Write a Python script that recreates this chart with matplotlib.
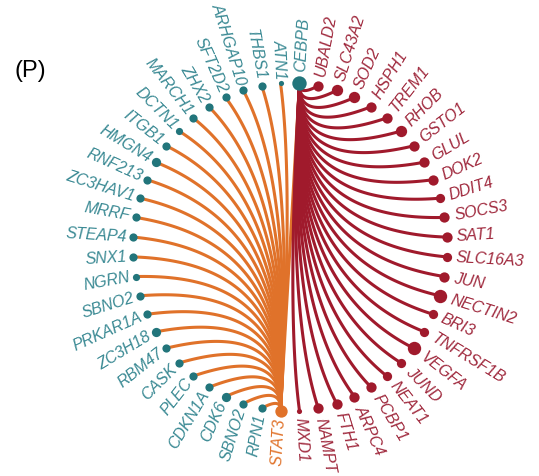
import matplotlib.pyplot as plt
import numpy as np

# hubs
hub_a = "CEBPB"
hub_b = "STAT3"

# STAT3 targets, listed top to bottom on the left half
left_genes = ["ATN1", "THBS1", "ARHGAP10", "SFT2D2", "ZHX2", "MARCH1", "DCTN1",
              "ITGB1", "HMGN4", "RNF213", "ZC3HAV1", "MRRF", "STEAP4", "SNX1",
              "NGRN", "SBNO2", "PRKAR1A", "ZC3H18", "RBM47", "CASK", "PLEC",
              "CDKN1A", "CDK6", "SBNO2", "RPN1"]
left_size = [5, 8, 8, 8, 8, 8, 7, 8, 9, 8, 8, 8, 8, 8, 7, 8, 8, 9, 8, 8, 8, 8, 9, 8, 8]

# CEBPB targets, listed top to bottom on the right half
right_genes = ["UBALD2", "SLC43A2", "SOD2", "HSPH1", "TREM1", "RHOB", "GSTO1",
               "GLUL", "DOK2", "DDIT4", "SOCS3", "SAT1", "SLC16A3", "JUN",
               "NECTIN2", "BRI3", "TNFRSF1B", "VEGFA", "JUND", "NEAT1", "PCBP1",
               "ARPC4", "FTH1", "NAMPT", "MXD1"]
right_size = [10, 11, 11, 10, 10, 11, 10, 10, 10, 9, 10, 10, 9, 10, 13, 9, 9, 13,
              9, 9, 10, 10, 10, 10, 5]

hub_size = {hub_a: 14, hub_b: 12}

teal_node = "#22757b"
teal_text = "#3b8a94"
orange = "#e0722a"
red = "#a01a2c"
red_text = "#a02a3e"

# circle order: CEBPB, right side downwards, STAT3, left side upwards
order = [hub_a] + right_genes + [hub_b] + left_genes[::-1]
sizes = [hub_size[hub_a]] + right_size + [hub_size[hub_b]] + left_size[::-1]
n = len(order)
step = 360 / n
ang = np.deg2rad((12.5 - np.arange(n)) * step)

cx, cy, rx, ry = 290, 247, 157, 164
px = cx + rx * np.cos(ang)
py = cy - ry * np.sin(ang)

fig = plt.figure(figsize=(5.39, 4.76), dpi=100)
ax = fig.add_axes([0, 0, 1, 1])
ax.set_xlim(0, 539)
ax.set_ylim(476, 0)
ax.axis("off")

ia, ib = 0, len(right_genes) + 1
pa = np.array([px[ia], py[ia]])
pb = np.array([px[ib], py[ib]])


def edge(h, t, color):
    # quadratic bezier leaving the hub along the hub-hub axis
    other = pb if np.allclose(h, pa) else pa
    u = (other - h) / np.linalg.norm(other - h)
    c = h + u * 0.7 * np.linalg.norm(t - h)
    s = np.linspace(0, 1, 80)[:, None]
    pts = (1 - s) ** 2 * h + 2 * s * (1 - s) * c + s ** 2 * t
    ax.plot(pts[:, 0], pts[:, 1], color=color, lw=2.2,
            solid_capstyle="round", zorder=1)


for k in range(ib + 1, n):
    edge(pb, np.array([px[k], py[k]]), orange)
edge(pb, pa, orange)
for k in range(1, ib):
    edge(pa, np.array([px[k], py[k]]), red)

for k, name in enumerate(order):
    if k == ib:
        nc, tc = orange, orange
    elif k == 0 or k > ib:
        nc, tc = teal_node, teal_text
    else:
        nc, tc = red, red_text
    d = sizes[k]
    ax.scatter(px[k], py[k], s=(d * 0.74) ** 2, color=nc, zorder=3,
               linewidths=0)
    deg = np.rad2deg(ang[k]) % 360
    right = deg < 90 or deg > 270
    gap = d / 2 + (5 if right else 2)
    tx = px[k] + gap * np.cos(ang[k])
    ty = py[k] - gap * np.sin(ang[k])
    rot = deg if right else deg - 180
    ax.text(tx, ty, name, rotation=rot, rotation_mode="anchor",
            ha="left" if right else "right", va="center", color=tc,
            fontsize=11.5, style="italic",
            family=["Liberation Sans", "DejaVu Sans"], zorder=4)

ax.text(30, 71, "(P)", fontsize=17, ha="center", va="center",
        family=["Liberation Sans", "DejaVu Sans"])

fig.savefig("out.png", dpi=100)
